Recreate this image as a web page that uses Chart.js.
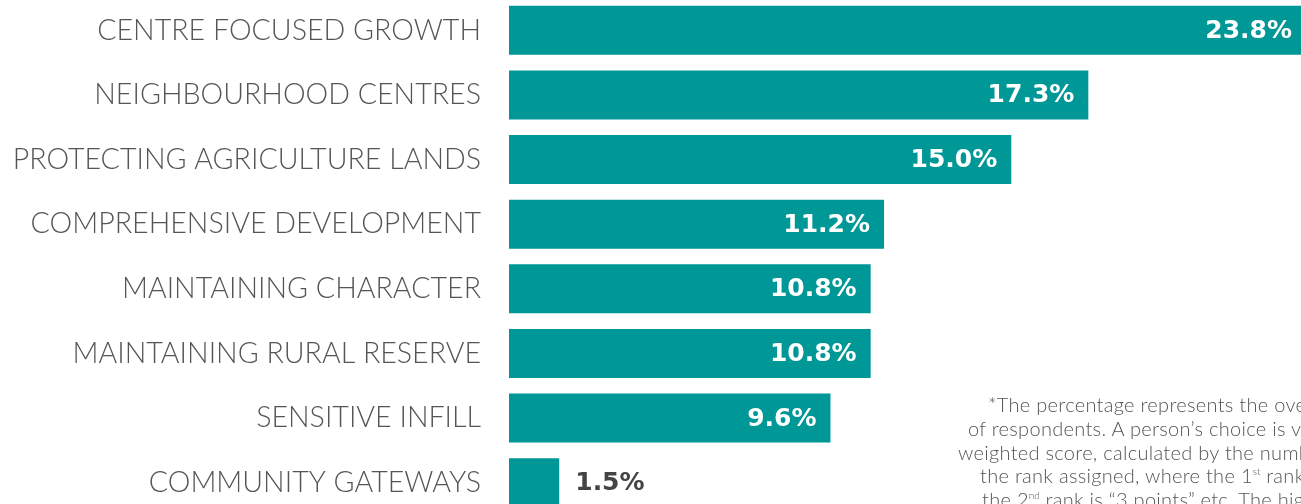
<!DOCTYPE html>
<html>
<head>
<meta charset="utf-8">
<script src="https://cdn.jsdelivr.net/npm/chart.js@4.4.1/dist/chart.umd.min.js"></script>
<style>
  html, body { margin: 0; padding: 0; background: #fff; overflow: hidden; width: 1301px; height: 504px; }
  #wrap { position: absolute; left: 0; top: -2px; width: 1306px; height: 517px; }
  .note { position: absolute; white-space: nowrap; font-family: Lato, sans-serif; font-weight: 300;
          font-size: 20px; letter-spacing: 0.3px; color: #555; line-height: 24px; }
  .note sup { font-size: 10px; vertical-align: 8px; line-height: 0; letter-spacing: 0; }
</style>
</head>
<body>
<div id="wrap"><canvas id="chart"></canvas></div>
<div class="note" style="left:988px; top:392px;">*The percentage represents the overall ranking</div>
<div class="note" style="left:968px; top:416px;">of respondents. A person’s choice is valued by a</div>
<div class="note" style="left:958px; top:440px;">weighted score, calculated by the number of votes and</div>
<div class="note" style="left:980px; top:463px;">the rank assigned, where the 1<sup>st</sup> rank is “4 points”,</div>
<div class="note" style="left:982px; top:487px;">the 2<sup>nd</sup> rank is “3 points” etc. The highest</div>
<script>
const categories = [
  "CENTRE FOCUSED GROWTH",
  "NEIGHBOURHOOD CENTRES",
  "PROTECTING AGRICULTURE LANDS",
  "COMPREHENSIVE DEVELOPMENT",
  "MAINTAINING CHARACTER",
  "MAINTAINING RURAL RESERVE",
  "SENSITIVE INFILL",
  "COMMUNITY GATEWAYS"
];
const shares = [23.8, 17.3, 15.0, 11.2, 10.8, 10.8, 9.6, 1.5];
const barColor = "#009797";

// draws the percentage at the end of each bar
const valueLabels = {
  id: "valueLabels",
  afterDatasetsDraw(chart) {
    const ctx = chart.ctx;
    const meta = chart.getDatasetMeta(0);
    ctx.save();
    ctx.font = "bold 25px 'DejaVu Sans', sans-serif";
    ctx.textBaseline = "middle";
    meta.data.forEach((bar, i) => {
      const txt = shares[i].toFixed(1) + "%";
      const w = ctx.measureText(txt).width;
      if (bar.x - bar.base > w + 30) {
        ctx.fillStyle = "#fff";
        ctx.textAlign = "right";
        ctx.fillText(txt, bar.x - 14, bar.y + 1);
      } else {
        ctx.fillStyle = "#444";
        ctx.textAlign = "left";
        ctx.fillText(txt, bar.x + 16, bar.y + 1);
      }
    });
    ctx.restore();
  }
};

new Chart(document.getElementById("chart"), {
  type: "bar",
  data: {
    labels: categories,
    datasets: [{
      data: shares,
      backgroundColor: barColor,
      borderWidth: 0,
      barPercentage: 0.76,
      categoryPercentage: 1
    }]
  },
  options: {
    indexAxis: "y",
    responsive: true,
    maintainAspectRatio: false,
    animation: false,
    layout: { padding: 0 },
    plugins: { legend: { display: false }, tooltip: { enabled: false } },
    scales: {
      x: { display: false, min: 0, max: 23.8 },
      y: {
        grid: { display: false, drawTicks: false },
        border: { display: false },
        ticks: { color: "#555", padding: 28, font: { family: "Lato", weight: 300, size: 28.6 } },
        afterFit(scale) {
          scale.width = 509;
          scale.paddingTop = 0;
          scale.paddingBottom = 0;
        }
      }
    }
  },
  plugins: [valueLabels]
});
</script>
</body>
</html>
